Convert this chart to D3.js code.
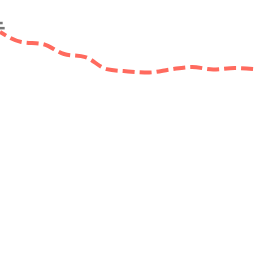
<!DOCTYPE html>
<html><head><meta charset="utf-8">
<script src="https://cdn.jsdelivr.net/npm/d3@7"></script>
<style>html,body{margin:0;padding:0;background:#fff;overflow:hidden}</style>
</head><body>
<svg id="c" width="256" height="256"></svg>
<script>
const steps = [0,1,2,3,4,5,6,7,8,9,10,11,12];
const values = [87.5, 83.6, 82.8, 78.9, 77.7, 73.0, 72.1, 71.7, 72.9, 73.8, 72.9, 73.4, 72.9];
const greyValues = [91.0, 89.0];
const greyX = [-0.3, 0.22];

const svg = d3.select("#c");
const x = d3.scaleLinear().domain([0,12]).range([0,256]);
const y = d3.scaleLinear().domain([0,100]).range([256,0]);

greyValues.forEach((v,i)=>{
  svg.append("line")
    .attr("x1", x(greyX[0])).attr("x2", x(greyX[1]) - (i===0?2:0))
    .attr("y1", y(v)).attr("y2", y(v))
    .attr("stroke", "#777").attr("stroke-width", 2.5);
});

const line = d3.line().x((d,i)=>x(steps[i])).y(d=>y(d)).curve(d3.curveMonotoneX);
svg.append("path").datum(values)
  .attr("d", line)
  .attr("fill","none")
  .attr("stroke","#ff6a5e")
  .attr("stroke-width",4)
  .attr("stroke-dasharray","12,5")
  .attr("stroke-dashoffset",5);
</script>
</body></html>
